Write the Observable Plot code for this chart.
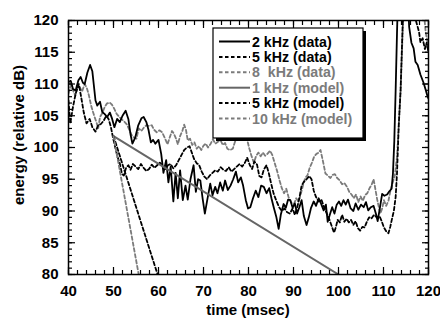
<!DOCTYPE html>
<html>
<head>
<meta charset="utf-8">
<script src="https://cdn.jsdelivr.net/npm/d3@7"></script>
<script src="https://cdn.jsdelivr.net/npm/@observablehq/plot@0.6"></script>
<style>
  html, body { margin: 0; padding: 0; background: #fff; }
  #chart { width: 440px; height: 320px; }
</style>
</head>
<body>
<div id="chart"></div>
<script>
// ---------- data ----------
const t2k = [40,40.5,41,41.6,42.2,42.7,43.2,43.6,44.2,44.8,45.3,46,46.4,47,47.5,48,48.6,49.2,49.7,50.2,50.8,51.4,52,52.7,53.3,53.8,54.2,54.8,55.5,56.2,56.7,57.3,57.8,58.3,58.8,59.3,60,60.6,61.1,61.7,62.2,62.7,63.3,63.8,64.3,64.8,65.4,66,66.5,67.1,67.8,68.3,68.8,69.3,69.8,70.3,70.9,71.5,72,72.6,73.1,73.7,74.3,74.8,75.4,76,76.6,77.2,77.7,78.3,78.8,79.4,79.9,80.4,81,81.6,82.2,82.8,83.4,84,84.6,85.1,85.6,86.2,86.7,87.2,87.8,88.3,88.8,89.3,89.8,90.3,90.8,91.3,91.8,92.3,92.9,93.4,93.9,94.5,95,95.6,96.1,96.7,97.2,97.6,98.1,98.6,99.1,99.6,100.1,100.6,101.1,101.6,102.1,102.7,103.3,103.8,104.4,105,105.6,106.1,106.6,107.2,107.8,108.3,108.7,109.2,109.7,110.2,110.8,111.3,111.8,112.1,112.4,112.7,113,113.3,115.3,115.7,116.2,116.7,117.1,117.6,118.2,118.9,119.4,119.8,120];
const v2k = [110.3,110.5,109.2,109,110.6,111.1,110.2,110,111.8,113,112,107.4,106.6,107.2,105.6,105.3,104.8,105.5,104.5,103.2,104.5,104,105,105.8,104.5,102,100.6,101.5,103.5,104.6,104.8,104,102.7,100.8,101.2,100.6,101.2,99,96,98,94.5,97,91.5,96,92,96.4,91.7,94,91.8,95,97.2,93,95,94.8,92,89.6,92,94.3,92.5,93.8,92.8,94.5,93.2,94.8,93.3,94,95,96.2,94.5,95.3,94,91.7,90.4,90.6,92,93.2,92.2,94,93.8,92.8,93.6,92,90.6,89,87.2,89.5,91.1,90.5,91.8,91.7,90.5,91.2,89.6,90.6,91.7,89.2,87.8,89,90.5,91.5,90.8,92,91.2,90.1,91,88.3,89.5,90.6,89.6,91,91.5,90.8,91.7,91,91.8,90.4,90,91.2,90.2,91,90.6,91.4,90.1,90.6,90.8,89.6,88.4,90.5,92.7,92.4,92.6,93.1,93.5,95.9,101,109,118,126,126,119,116.5,115.6,113.5,113,111.5,110.2,109,108,107.7];

const t5k = [40,40.4,41,41.6,42.3,42.8,43.4,44,44.7,45.3,46,46.6,47.2,47.8,48.4,48.9,49.4,49.9,50.4,50.9,51.4,51.9,52.3,52.8,53.3,53.8,54.3,54.9,55.5,56.1,56.7,57.3,57.9,58.5,59.1,59.7,60.3,60.9,61.5,62.1,62.7,63.3,63.9,64.5,65.1,65.7,66.3,66.9,67.4,67.9,68.5,69,69.6,70.2,70.8,71.4,72,72.6,73.2,73.8,74.4,75,75.6,76.2,76.8,77.4,78,78.6,79.2,79.7,80.3,80.8,81.3,81.9,82.4,82.9,83.4,84,84.5,85,85.6,86.2,86.8,87.4,88,88.6,89.2,89.8,90.3,90.8,91.3,91.8,92.3,92.9,93.5,94,94.5,95,95.6,96.2,96.8,97.4,98,98.5,99,99.4,99.8,100.3,100.8,101.3,101.8,102.3,102.8,103.3,103.8,104.3,104.8,105.3,105.8,106.3,106.8,107.3,107.9,108.5,109.1,109.6,110.1,110.6,111.1,111.5,111.9,112.3,112.7,113,113.4,113.8,114.2,114.6,116.6,117.2,117.9,118.2,118.7,119.2,119.6,120];
const v5k = [107.4,103.8,106.4,108.5,110,108,105.5,103.8,104.5,103.2,102.5,103.5,103.7,104.2,105,104.5,103.3,101.5,100,98.5,97.5,95.8,95.6,96.8,97.2,96.5,97.4,97,96.6,97.4,96.8,96.3,96.6,97.3,96.8,97.2,97.6,97.2,96.6,97.2,97.4,96.7,97.2,98,98.8,99.6,100,100.2,99.2,98.2,97.5,97.3,96.2,95.4,95,95.6,96,96.4,96.2,96.9,96.5,96.3,96.9,96.2,96.6,97,97.4,97,97.6,98.4,97.2,96.6,97.8,97.3,95.5,95.3,96.5,97.2,96,94.4,92.7,91.6,90.6,90,90.4,89.8,89.6,90.4,89.4,90.5,92,94,94.6,95,95.5,95,93.2,92.2,91.5,91.8,90.6,89.6,88.6,87.6,86.6,87.4,88.6,88.2,89.4,88.3,88.8,88.2,88.6,87.8,88.4,87.3,86.9,87.5,87.4,88.3,89,88.8,89.4,89,89.2,88.4,87.4,86.8,86.5,87.5,88.8,90,92.2,95.9,103.7,109,118,126,126,120,118.2,116.6,117.2,115.5,116.5,115];

const t8k = [40,40.5,41,41.5,42,42.5,43,43.6,44.1,44.5,45.1,45.8,46.2,46.6,47,47.5,48,48.5,49.1,49.6,50.1,50.7,51.3,51.9,52.5,53,53.5,54,54.5,55.1,55.6,56.2,56.8,57.3,57.9,58.5,59,59.6,60.2,60.8,61.4,62,62.5,63,63.4,63.9,64.3,64.8,65.3,65.7,66.1,66.5,67,67.5,68,68.5,69,69.5,70,70.5,71,71.6,72.1,72.6,73.2,73.8,74.3,74.8,75.3,75.9,76.5,77,77.6,78.2,78.7,79.2,79.7,80.2,80.7,81.2,81.7,82.2,82.7,83.2,83.7,84.2,84.8,85.3,85.8,86.4,86.9,87.4,87.9,88.4,88.9,89.5,90.1,90.6,91.1,91.6,92.1,92.6,93.1,93.6,94.1,94.6,95.1,95.6,96,96.5,97.1,97.6,98.2,98.7,99.2,99.7,100.3,100.8,101.3,101.9,102.4,102.9,103.4,103.9,104.4,104.9,105.4,105.9,106.4,106.9,107.4,107.8,108.2,108.6,109,109.3,109.7,110.1,110.6,111.1,111.6,112.1,112.5,113,113.4,113.8,114.2,114.6,118.6,119,119.4,119.8,120];
const v8k = [108.5,109.8,109,108.2,109.4,109.5,108.8,110,109.3,108.3,106.4,104.8,104,103,104.8,105.4,106.3,106.9,107.1,106.8,106.2,105.3,104.8,104.4,104,103.6,102.8,102,101.6,101.4,103,102.6,103.2,103.5,103.4,103.5,102.8,102.4,102.7,102.4,101.5,100.5,101.6,102.6,102.2,101.4,100.5,101.8,102.6,103.6,102.8,101.1,101.4,100.4,100.8,99.8,100.2,99.6,100.3,100.6,100,100.6,101.3,100.6,100.9,101.1,100.4,100.7,99.8,99.6,99.8,100.9,101.6,102.2,101.5,102,101.2,99.8,98.6,97.6,98.7,99.2,98.6,99.2,98.7,99,99.5,98.8,97.6,96.2,94.8,93.6,92.8,93.5,92.2,91.3,91.1,92,91.5,92.6,94,95.2,95.6,96.8,97.6,98.6,99,99.2,99.6,98,95.9,95.6,95.2,95.7,95.8,95.2,94.8,94.2,94.4,93.8,93,92.6,92,92.6,91.4,92.3,91.6,92.5,92.8,93.6,94.2,95,93.4,91.8,90.5,89.6,90.4,91.7,90.8,91.6,93.4,94.6,95.5,98.5,103.7,109,117,126,126,121,118,116.5,116];

// model decay lines: start and end points
const modelNames = ["1 kHz (model)", "5 kHz (model)", "10 kHz (model)"];
const modelT = [[50, 100], [50, 59.8], [50, 55.6]];
const modelV = [[101.8, 80], [101.8, 80], [101.8, 80]];

const xMajor = d3.range(40, 121, 10);
const xMinor = d3.range(40, 121, 2);
const yMajor = d3.range(80, 121, 5);
const yMinor = d3.range(80, 121, 1);

const xTitle = "time (msec)";
const yTitle = "energy (relative dB)";
const legendLabels = ["2 kHz (data)", "5 kHz (data)", "8  kHz (data)", "1 kHz (model)", "5 kHz (model)", "10 kHz (model)"];

// ---------- styles ----------
const BLACK = "#000", GRAY = "#7b7b7b", MGRAY = "#666";
const DASH = "3.5,2.5";
const FONT = "'Liberation Sans', Arial, Helvetica, sans-serif";
const legendColors = [BLACK, BLACK, GRAY, MGRAY, BLACK, GRAY];
const legendText = [BLACK, BLACK, GRAY, GRAY, BLACK, GRAY];
const legendDash = [null, DASH, DASH, null, DASH, DASH];

const zip = (ts, vs) => ts.map((t, i) => ({t, v: vs[i]}));
const d2k = zip(t2k, v2k), d5k = zip(t5k, v5k), d8k = zip(t8k, v8k);
const models = modelNames.map((name, i) => zip(modelT[i], modelV[i]));

const lineOpts = {x: "t", y: "v", clip: true, strokeWidth: 1.8, strokeLinejoin: "round"};
const noText = () => "";

const plot = Plot.plot({
  width: 440,
  height: 320,
  marginLeft: 68,
  marginRight: 12,
  marginTop: 20,
  marginBottom: 46,
  style: {fontFamily: FONT, fontSize: "15px", fontWeight: "bold", color: "#000", background: "#fff"},
  x: {domain: [40, 120]},
  y: {domain: [80, 120]},
  marks: [
    Plot.line(d8k, {...lineOpts, stroke: GRAY, strokeDasharray: DASH}),
    Plot.line(d5k, {...lineOpts, stroke: BLACK, strokeDasharray: DASH}),
    Plot.line(d2k, {...lineOpts, stroke: BLACK}),
    Plot.line(models[0], {...lineOpts, stroke: MGRAY, strokeWidth: 2}),
    Plot.line(models[1], {...lineOpts, stroke: BLACK, strokeDasharray: DASH}),
    Plot.line(models[2], {...lineOpts, stroke: GRAY, strokeDasharray: DASH}),
    Plot.frame({stroke: BLACK, strokeWidth: 1.5}),
    Plot.axisX({anchor: "bottom", ticks: xMajor, tickSize: -7, tickPadding: 18, label: null, strokeWidth: 1.2}),
    Plot.axisX({anchor: "bottom", ticks: xMinor, tickSize: -4, tickFormat: noText, label: null, strokeWidth: 1.2}),
    Plot.axisX({anchor: "top", ticks: xMajor, tickSize: -7, tickFormat: noText, label: null, strokeWidth: 1.2}),
    Plot.axisX({anchor: "top", ticks: xMinor, tickSize: -4, tickFormat: noText, label: null, strokeWidth: 1.2}),
    Plot.axisY({anchor: "left", ticks: yMajor, tickSize: -7, tickPadding: 17, label: null, strokeWidth: 1.2}),
    Plot.axisY({anchor: "left", ticks: yMinor, tickSize: -4, tickFormat: noText, label: null, strokeWidth: 1.2}),
    Plot.axisY({anchor: "right", ticks: yMajor, tickSize: -7, tickFormat: noText, label: null, strokeWidth: 1.2}),
    Plot.axisY({anchor: "right", ticks: yMinor, tickSize: -4, tickFormat: noText, label: null, strokeWidth: 1.2})
  ]
});
document.getElementById("chart").appendChild(plot);

const svg = d3.select(plot);

// ---------- axis titles ----------
svg.append("text").attr("x", 248).attr("y", 310).attr("dy", "0.36em")
  .attr("text-anchor", "middle").attr("font-family", FONT).attr("font-size", 15).attr("font-weight", "bold")
  .attr("fill", BLACK).text(xTitle);
svg.append("text").attr("transform", "translate(19,135) rotate(-90)").attr("dy", "0.36em")
  .attr("text-anchor", "middle").attr("font-family", FONT).attr("font-size", 15).attr("font-weight", "bold")
  .attr("fill", BLACK).text(yTitle);

// ---------- legend (inside the frame, top right) ----------
const L = {x: 213, y: 28, w: 150, h: 110, shadow: 3, lineX1: 219, lineX2: 250, textX: 252, row0: 41.5, rowStep: 15.4, fontSize: 14.2};
const g = svg.append("g").attr("class", "legend").attr("text-anchor", "start");
g.append("rect").attr("x", L.x + L.shadow).attr("y", L.y + L.shadow).attr("width", L.w).attr("height", L.h).attr("fill", BLACK);
g.append("rect").attr("x", L.x).attr("y", L.y).attr("width", L.w).attr("height", L.h).attr("fill", "#fff").attr("stroke", BLACK).attr("stroke-width", 1.2);
legendLabels.forEach((lab, i) => {
  const cy = L.row0 + i * L.rowStep;
  g.append("line").attr("x1", L.lineX1).attr("x2", L.lineX2).attr("y1", cy).attr("y2", cy)
    .attr("stroke", legendColors[i]).attr("stroke-width", 2).attr("stroke-dasharray", legendDash[i]);
  g.append("text").attr("x", L.textX).attr("y", cy).attr("dy", "0.36em")
    .attr("text-anchor", "start").attr("fill", legendText[i]).style("white-space", "pre")
    .attr("font-family", FONT).attr("font-size", L.fontSize).attr("font-weight", "bold").text(lab);
});
</script>
</body>
</html>
